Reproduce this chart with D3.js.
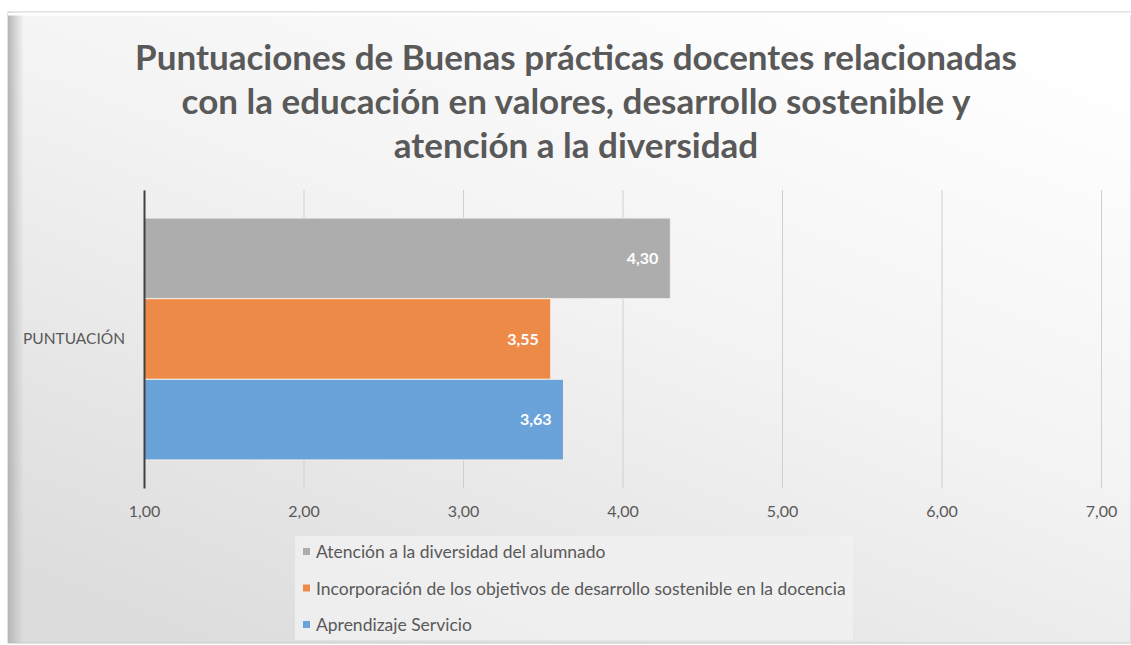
<!DOCTYPE html>
<html>
<head>
<meta charset="utf-8">
<script src="https://cdn.jsdelivr.net/npm/d3@7"></script>
<style>
  body { margin: 0; background: #fff; }
  svg text { font-family: Lato, "Open Sans", sans-serif; }
</style>
</head>
<body>
<div id="chart"></div>
<script>
// data
const titleLines = [
  "Puntuaciones de Buenas prácticas docentes relacionadas",
  "con la educación en valores, desarrollo sostenible y",
  "atención a la diversidad"
];
const category = ["PUNTUACIÓN"];
// top to bottom, same order as the legend
const seriesNames = [
  "Atención a la diversidad del alumnado",
  "Incorporación de los objetivos de desarrollo sostenible en la docencia",
  "Aprendizaje Servicio"
];
const seriesValues = [4.30, 3.55, 3.63];
const seriesColors = ["#adadad", "#ed8a48", "#6aa3d9"];
const xTicks = [1, 2, 3, 4, 5, 6, 7];

const width = 1131, height = 645;
const margin = {top: 190, right: 30, bottom: 157, left: 144};

const svg = d3.select("#chart").append("svg")
  .attr("width", width)
  .attr("height", height);

const defs = svg.append("defs");
const bg = defs.append("linearGradient")
  .attr("id", "bg")
  .attr("x1", "0.85").attr("y1", "0")
  .attr("x2", "0.15").attr("y2", "1");
bg.append("stop").attr("offset", "0").attr("stop-color", "#ffffff");
bg.append("stop").attr("offset", "0.45").attr("stop-color", "#f3f3f3");
bg.append("stop").attr("offset", "1").attr("stop-color", "#dcdcdc");

const edge = defs.append("linearGradient")
  .attr("id", "edge")
  .attr("x1", "0").attr("x2", "1").attr("y1", "0").attr("y2", "0");
edge.append("stop").attr("offset", "0").attr("stop-color", "#b5b5b5");
edge.append("stop").attr("offset", "1").attr("stop-color", "#bdbdbd").attr("stop-opacity", 0);

// chart frame
svg.append("rect")
  .attr("x", 8).attr("y", 12)
  .attr("width", width - 8).attr("height", height - 14)
  .attr("fill", "url(#bg)")
  .attr("stroke", "#c8c8c8");
svg.append("rect")
  .attr("x", 8).attr("y", 12)
  .attr("width", 16).attr("height", height - 14)
  .attr("fill", "url(#edge)");
svg.append("line")
  .attr("x1", 8).attr("x2", width).attr("y1", 14).attr("y2", 14)
  .attr("stroke", "#ffffff").attr("stroke-width", 3);

// title
svg.append("text")
  .attr("text-anchor", "middle")
  .attr("fill", "#595959")
  .style("font-size", "35px")
  .style("font-weight", "bold")
  .selectAll("tspan")
  .data(titleLines)
  .join("tspan")
  .attr("x", 576)
  .attr("y", (d, i) => 70 + i * 44)
  .text(d => d);

const x = d3.scaleLinear()
  .domain([1, 7])
  .range([margin.left, width - margin.right]);

const y = d3.scaleBand()
  .domain(category)
  .range([margin.top, height - margin.bottom])
  .paddingOuter(0.116)
  .paddingInner(0);

const ySeries = d3.scaleBand()
  .domain(seriesNames)
  .range([0, y.bandwidth()]);

// grid lines
svg.append("g")
  .attr("transform", `translate(0,${height - margin.bottom})`)
  .call(d3.axisBottom(x)
    .tickValues(xTicks)
    .tickSize(-(height - margin.top - margin.bottom))
    .tickFormat(d => d3.format(".2f")(d).replace(".", ",")))
  .call(g => g.select(".domain").remove())
  .call(g => g.selectAll(".tick line").attr("stroke", "#cfcfcf"))
  .call(g => g.selectAll(".tick text")
    .attr("fill", "#595959")
    .attr("dy", 0)
    .attr("y", 29)
    .style("font-size", "16px"));

// bars
const group = svg.append("g")
  .attr("transform", `translate(0,${y(category[0])})`);

group.selectAll("rect")
  .data(seriesNames)
  .join("rect")
  .attr("x", x(1))
  .attr("y", d => ySeries(d))
  .attr("width", (d, i) => x(seriesValues[i]) - x(1))
  .attr("height", ySeries.bandwidth())
  .attr("fill", (d, i) => seriesColors[i])
  .attr("stroke", "#f4eee8")
  .attr("stroke-width", 1);

group.selectAll("text")
  .data(seriesNames)
  .join("text")
  .attr("x", (d, i) => x(seriesValues[i]) - 12)
  .attr("y", d => ySeries(d) + ySeries.bandwidth() / 2)
  .attr("dy", "0.35em")
  .attr("text-anchor", "end")
  .attr("fill", "#ffffff")
  .style("font-size", "16px")
  .style("font-weight", "bold")
  .text((d, i) => d3.format(".2f")(seriesValues[i]).replace(".", ","));

// category axis
svg.append("g")
  .attr("transform", `translate(${margin.left},0)`)
  .call(d3.axisLeft(y).tickSize(0).tickPadding(19))
  .call(g => g.select(".domain").attr("stroke", "#404040").attr("stroke-width", 2))
  .call(g => g.selectAll(".tick text")
    .attr("fill", "#595959")
    .style("font-size", "15.5px"));

// legend
const legend = svg.append("g");
legend.append("rect")
  .attr("x", 295).attr("y", 536)
  .attr("width", 558).attr("height", 104)
  .attr("fill", "#f1f1f1")
  .attr("opacity", 0.8);

const item = legend.selectAll("g.item")
  .data(seriesNames)
  .join("g")
  .attr("class", "item")
  .attr("transform", (d, i) => `translate(303,${552 + i * 36.5})`);

item.append("rect")
  .attr("x", 0).attr("y", -4)
  .attr("width", 7).attr("height", 7)
  .attr("fill", (d, i) => seriesColors[i]);

item.append("text")
  .attr("x", 13)
  .attr("dy", "0.35em")
  .attr("fill", "#595959")
  .style("font-size", "17.5px")
  .text(d => d);
</script>
</body>
</html>
